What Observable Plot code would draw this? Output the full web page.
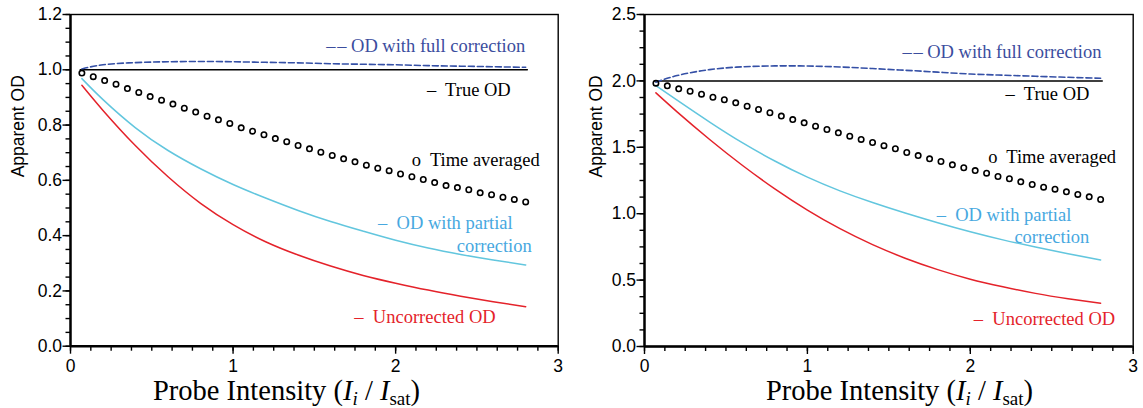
<!DOCTYPE html>
<html>
<head>
<meta charset="utf-8">
<script src="https://cdn.jsdelivr.net/npm/d3@7"></script>
<script src="https://cdn.jsdelivr.net/npm/@observablehq/plot@0.6"></script>
<style>
  html, body { margin: 0; padding: 0; background: #fff; }
  #wrap { position: relative; width: 1143px; height: 408px; overflow: hidden; }
  #wrap svg { position: absolute; top: 0; }
</style>
</head>
<body>
<div id="wrap"></div>
<script>
// Probe intensity (I_i / I_sat) at which the model curves are evaluated
const intensity = [0.07, 0.2, 0.4, 0.6, 0.8, 1.0, 1.2, 1.4, 1.6, 1.8, 2.0, 2.2, 2.4, 2.6, 2.8];
// Probe intensity of the time-averaged samples
const sampleIntensity = [0.07, 0.14, 0.21, 0.28, 0.35, 0.42, 0.49, 0.56, 0.63, 0.70,
  0.77, 0.84, 0.91, 0.98, 1.05, 1.12, 1.19, 1.26, 1.33, 1.40,
  1.47, 1.54, 1.61, 1.68, 1.75, 1.82, 1.89, 1.96, 2.03, 2.10,
  2.17, 2.24, 2.31, 2.38, 2.45, 2.52, 2.59, 2.66, 2.73, 2.80];
// Span of the true-OD reference line
const trueSpan = [0.06, 2.81];

// Left panel: true OD = 1
const trueA = 1;
const fullA = [1.003, 1.018, 1.026, 1.029, 1.030, 1.029, 1.027, 1.025, 1.022, 1.020, 1.018, 1.015, 1.013, 1.011, 1.009];
const partialA = [0.968, 0.892, 0.790, 0.708, 0.642, 0.585, 0.536, 0.491, 0.451, 0.416, 0.383, 0.355, 0.332, 0.312, 0.294];
const uncorrectedA = [0.944, 0.853, 0.725, 0.613, 0.517, 0.440, 0.378, 0.330, 0.290, 0.256, 0.228, 0.203, 0.181, 0.161, 0.143];
const timeAvgA = [0.988, 0.975, 0.961, 0.948, 0.932, 0.918, 0.903, 0.890, 0.876, 0.861,
  0.847, 0.832, 0.819, 0.806, 0.790, 0.778, 0.765, 0.751, 0.740, 0.726,
  0.714, 0.702, 0.690, 0.678, 0.667, 0.655, 0.644, 0.635, 0.623, 0.613,
  0.603, 0.592, 0.581, 0.574, 0.566, 0.555, 0.548, 0.539, 0.531, 0.522];

// Right panel: true OD = 2
const trueB = 2;
const fullB = [1.990, 2.040, 2.085, 2.106, 2.113, 2.112, 2.105, 2.093, 2.080, 2.066, 2.052, 2.043, 2.035, 2.027, 2.020];
const partialB = [1.965, 1.855, 1.690, 1.535, 1.397, 1.275, 1.172, 1.084, 1.005, 0.932, 0.864, 0.803, 0.749, 0.699, 0.652];
const uncorrectedB = [1.910, 1.767, 1.559, 1.365, 1.187, 1.027, 0.887, 0.767, 0.665, 0.579, 0.507, 0.450, 0.400, 0.360, 0.326];
const timeAvgB = [1.983, 1.963, 1.940, 1.922, 1.900, 1.877, 1.858, 1.835, 1.810, 1.785,
  1.760, 1.735, 1.709, 1.684, 1.659, 1.634, 1.609, 1.584, 1.559, 1.536,
  1.512, 1.489, 1.461, 1.438, 1.413, 1.393, 1.368, 1.346, 1.325, 1.305,
  1.280, 1.263, 1.240, 1.220, 1.200, 1.185, 1.165, 1.145, 1.127, 1.107];

// Axis ticks
const xTicks = [0, 1, 2, 3];
const yTicksA = [0, 0.2, 0.4, 0.6, 0.8, 1.0, 1.2];
const yTicksB = [0, 0.5, 1.0, 1.5, 2.0, 2.5];

// Text labels
const yTitle = "Apparent OD";
const seriesLabels = [
  "–\u200a– OD with full correction",
  "–\u00a0 True OD",
  "o\u00a0 Time averaged",
  "–\u00a0 OD with partial",
  "correction",
  "–\u00a0 Uncorrected OD"
];

const colors = {
  fullLine: "#3550a6", fullText: "#3b4d9e",
  partialLine: "#62c6de", partialText: "#47a8df",
  red: "#e4222a", black: "#000"
};
const labelColors = [colors.fullText, colors.black, colors.black, colors.partialText, colors.partialText, colors.red];
const serif = "'Liberation Serif', 'Times New Roman', serif";

function panel(cfg) {
  const xMinor = d3.range(0, 3.0001, 0.125);
  const yMinor = d3.range(0, cfg.yMax + 1e-6, cfg.yMinorStep);
  const labels = seriesLabels.map((t, i) => ({text: t, x: cfg.labelAt[i][0], y: cfg.labelAt[i][1], color: labelColors[i]}));
  const svg = Plot.plot({
    width: cfg.width, height: 408,
    marginLeft: cfg.ml, marginRight: cfg.mr, marginTop: 14, marginBottom: cfg.mb,
    x: {domain: [0, 3]},
    y: {domain: [0, cfg.yMax]},
    style: {fontFamily: "'Liberation Sans', Arial, sans-serif", fontSize: "17.5px", background: "transparent", overflow: "visible", color: "#000"},
    marks: [
      Plot.axisY(yMinor, {tickSize: 4.5, text: null, label: null, strokeWidth: 1.4}),
      Plot.axisY(cfg.yTicks, {tickSize: 7.5, tickPadding: 1, tickFormat: d3.format(".1f"), label: null, fontSize: 17.5, strokeWidth: 1.4}),
      Plot.axisX(xMinor, {tickSize: 5, text: null, label: null, strokeWidth: 1.4}),
      Plot.axisX(xTicks, {tickSize: 8, tickPadding: 5, tickFormat: d3.format("d"), label: null, fontSize: 17.5, strokeWidth: 1.4}),
      Plot.frame({stroke: "#000", strokeWidth: 1.4}),
      Plot.ruleX([0], {stroke: "#000", strokeWidth: 2.4}),
      Plot.ruleY([0], {stroke: "#000", strokeWidth: 2.4}),
      Plot.line(trueSpan, {x: d => d, y: () => cfg.trueOD, stroke: colors.black, strokeWidth: 1.5}),
      Plot.line(cfg.full, {x: intensity, y: d => d, curve: "natural", stroke: colors.fullLine, strokeWidth: 1.6, strokeDasharray: "6,3"}),
      Plot.line(cfg.partial, {x: intensity, y: d => d, curve: "natural", stroke: colors.partialLine, strokeWidth: 1.5}),
      Plot.line(cfg.uncorrected, {x: intensity, y: d => d, curve: "natural", stroke: colors.red, strokeWidth: 1.5}),
      Plot.dot(cfg.timeAvg, {x: sampleIntensity, y: d => d, r: 2.7, stroke: "#000", strokeWidth: 1.6, fill: "none"}),
      Plot.text(labels, {x: "x", y: "y", text: "text", fill: "color", textAnchor: "end",
        fontFamily: serif, fontSize: 18.5}),
      Plot.text([yTitle], {text: d => d, frameAnchor: "left", rotate: -90, dx: cfg.yTitleDx, dy: -3, fontSize: 17.5})
    ]
  });
  // x-axis title with italic, subscripted intensity symbols
  const t = d3.select(svg).append("text")
    .attr("x", cfg.titleX).attr("y", 400)
    .attr("text-anchor", "start")
    .attr("font-family", serif)
    .attr("font-size", 28.5).attr("fill", "#000")
    .style("white-space", "pre");
  t.append("tspan").text("Probe Intensity (");
  t.append("tspan").attr("font-style", "italic").text("I");
  t.append("tspan").attr("font-style", "italic").attr("font-size", 19).attr("dy", 5).text("i");
  t.append("tspan").attr("dy", -5).text(" / ");
  t.append("tspan").attr("font-style", "italic").text("I");
  t.append("tspan").attr("font-size", 19).attr("dy", 5).text("sat");
  t.append("tspan").attr("dy", -5).text(")");
  return svg;
}

const left = panel({
  width: 571, ml: 70, mr: 13.3, mb: 62.3, yMax: 1.2, yMinorStep: 0.05, yTicks: yTicksA,
  trueOD: trueA, full: fullA, partial: partialA, uncorrected: uncorrectedA, timeAvg: timeAvgA,
  labelAt: [[2.797, 1.084], [2.708, 0.925], [2.886, 0.672], [2.72, 0.444], [2.837, 0.363], [2.615, 0.107]],
  yTitleDx: -52, titleX: 153
});
const right = panel({
  width: 572, ml: 73, mr: 10.3, mb: 62, yMax: 2.5, yMinorStep: 0.125, yTicks: yTicksB,
  trueOD: trueB, full: fullB, partial: partialB, uncorrected: uncorrectedB, timeAvg: timeAvgB,
  labelAt: [[2.805, 2.214], [2.731, 1.898], [2.895, 1.425], [2.62, 0.991], [2.731, 0.823], [2.889, 0.209]],
  yTitleDx: -48, titleX: 195
});
left.style.left = "0px";
right.style.left = "571px";
document.getElementById("wrap").append(left, right);
</script>
</body>
</html>
